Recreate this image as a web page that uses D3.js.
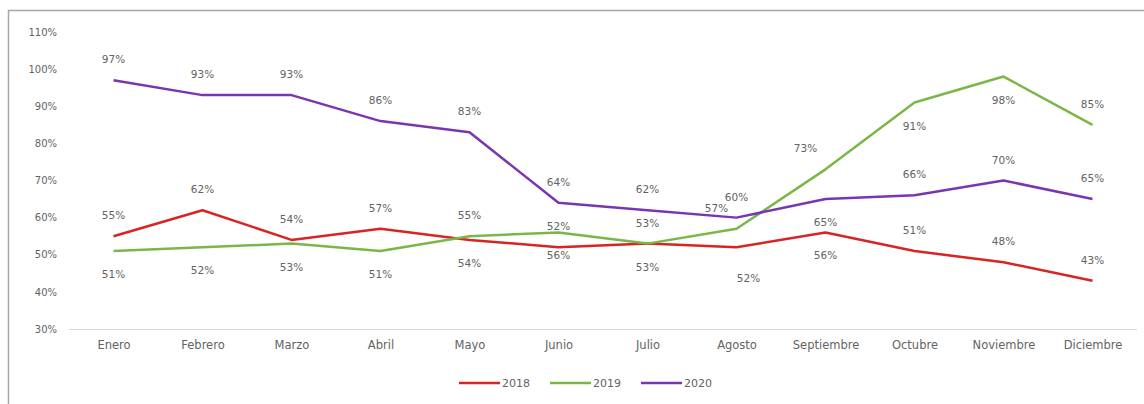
<!DOCTYPE html>
<html>
<head>
<meta charset="utf-8">
<script src="https://cdn.jsdelivr.net/npm/d3@7"></script>
<style>
  html, body { margin: 0; padding: 0; background: #fff; }
  svg { display: block; }
  text { font-family: "DejaVu Sans", sans-serif; fill: #636363; }
</style>
</head>
<body>
<svg id="chart" width="1144" height="404"></svg>
<script>
// ---- data ----
const months = ["Enero","Febrero","Marzo","Abril","Mayo","Junio","Julio","Agosto","Septiembre","Octubre","Noviembre","Diciembre"];
const years = ["2018","2019","2020"];
const values2018 = [55, 62, 54, 57, 54, 52, 53, 52, 56, 51, 48, 43];
const values2019 = [51, 52, 53, 51, 55, 56, 53, 57, 73, 91, 98, 85];
const values2020 = [97, 93, 93, 86, 83, 64, 62, 60, 65, 66, 70, 65];
// data label texts as printed on the reference
const labels2018 = ["55%","62%","54%","57%","54%","52%","53%","52%","56%","51%","48%","43%"];
const labels2019 = ["51%","52%","53%","51%","55%","56%","53%","57%","73%","91%","98%","85%"];
const labels2020 = ["97%","93%","93%","86%","83%","64%","62%","60%","65%","66%","70%","65%"];
// label placement: a = above, b = below, al = above-left, br = below-right
const place2018 = ["a","a","a","a","b","a","a","br","b","a","a","a"];
const place2019 = ["b","b","b","b","a","b","b","al","al","b","b","a"];
const place2020 = ["a","a","a","a","a","a","a","a","b","a","a","a"];
const yTicks = [30, 40, 50, 60, 70, 80, 90, 100, 110];

const colors = {"2018": "#d92424", "2019": "#7ab648", "2020": "#7a35b0"};

const series = [
  {name: "2018", values: values2018, labels: labels2018, place: place2018},
  {name: "2019", values: values2019, labels: labels2019, place: place2019},
  {name: "2020", values: values2020, labels: labels2020, place: place2020}
];

const offsets = {
  a:  {dx: 0,   dy: -17},
  b:  {dx: 0,   dy: 27},
  al: {dx: -20, dy: -17},
  br: {dx: 12,  dy: 35}
};

const svg = d3.select("#chart");

// frame
svg.append("path")
  .attr("d", "M8.5,404 V10.5 H1144")
  .attr("fill", "none")
  .attr("stroke", "#a6a6a6")
  .attr("stroke-width", 1.5);

const x = d3.scalePoint().domain(months).range([69, 1137]).padding(0.5);
const y = d3.scaleLinear().domain([30, 110]).range([329, 32]);

// y axis labels
const yAxis = d3.axisLeft(y).tickValues(yTicks).tickFormat(d => d + "%").tickSize(0).tickPadding(0);
const yg = svg.append("g").attr("transform", "translate(57,0)").call(yAxis);
yg.select(".domain").remove();
yg.selectAll("text").style("font-family", '"DejaVu Sans", sans-serif').style("font-size", "10px").attr("fill", "#636363");

// baseline
svg.append("line")
  .attr("x1", 69).attr("x2", 1137)
  .attr("y1", y(30) + 0.5).attr("y2", y(30) + 0.5)
  .attr("stroke", "#d9d9d9").attr("stroke-width", 1);

// x axis labels
const xAxis = d3.axisBottom(x).tickSize(0).tickPadding(0);
const xg = svg.append("g").attr("transform", `translate(0,${y(30) + 12})`).call(xAxis);
xg.select(".domain").remove();
xg.selectAll("text").style("font-family", '"DejaVu Sans", sans-serif').style("font-size", "11.5px").attr("fill", "#636363");

// lines
const line = d3.line().x((d, i) => x(months[i])).y(d => y(d));
series.forEach(s => {
  svg.append("path")
    .datum(s.values)
    .attr("d", line)
    .attr("fill", "none")
    .attr("stroke", colors[s.name])
    .attr("stroke-width", 2.5)
    .attr("stroke-linejoin", "round");
});

// data labels
series.forEach(s => {
  svg.append("g").selectAll("text")
    .data(s.values)
    .join("text")
    .attr("x", (d, i) => x(months[i]) + offsets[s.place[i]].dx)
    .attr("y", (d, i) => y(d) + offsets[s.place[i]].dy)
    .attr("text-anchor", "middle")
    .style("font-size", "10.5px")
    .text((d, i) => s.labels[i]);
});

// legend
const legendX = [459, 550, 641];
years.forEach((yr, i) => {
  const g = svg.append("g").attr("transform", `translate(${legendX[i]},383)`);
  g.append("line").attr("x1", 0).attr("x2", 41).attr("y1", 0).attr("y2", 0)
    .attr("stroke", colors[yr]).attr("stroke-width", 2.5);
  g.append("text").attr("x", 43).attr("y", 4).style("font-size", "11px").text(yr);
});
</script>
</body>
</html>
